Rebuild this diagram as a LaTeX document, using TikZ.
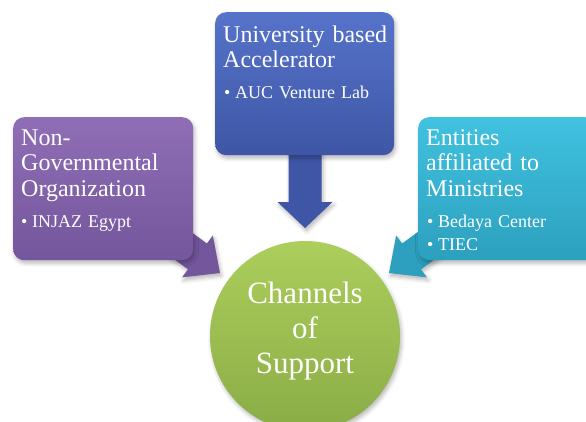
\documentclass[tikz,border=0pt]{standalone}
\usepackage{fontspec}
\setmainfont{Liberation Serif}
\usetikzlibrary{shadows.blur}

\definecolor{ngoTop}{RGB}{143,110,182}
\definecolor{ngoBot}{RGB}{116,86,156}
\definecolor{uniTop}{RGB}{86,115,202}
\definecolor{uniBot}{RGB}{62,86,165}
\definecolor{minTop}{RGB}{64,194,224}
\definecolor{minBot}{RGB}{44,160,190}
\definecolor{hubTop}{RGB}{172,206,92}
\definecolor{hubBot}{RGB}{138,172,70}

\tikzset{
  softshadow/.style={blur shadow={shadow xshift=1.5pt, shadow yshift=-3pt,
      shadow blur radius=4pt, shadow opacity=28}},
  card/.style={rectangle, rounded corners=11pt, anchor=north west,
      inner sep=0pt, softshadow},
  heading/.style={text=white, inner sep=0pt, anchor=base west,
      text width=170pt, align=left,
      font=\fontsize{24}{25.5}\selectfont},
  bullets/.style={text=white, inner sep=0pt, anchor=base west,
      text width=165pt, align=left,
      font=\fontsize{18}{23}\selectfont},
  hub/.style={circle, minimum size=190pt, inner sep=0pt, softshadow,
      top color=hubTop, bottom color=hubBot},
  hublabel/.style={text=white, inner sep=0pt, anchor=base,
      text width=170pt, align=center, font=\fontsize{31}{35}\selectfont}
}

% block arrow: tip point, direction angle, total length, head length,
% head half width, shaft half width, fill colour
\newcommand\blockarrow[7]{%
  \begin{scope}[shift={#1}, rotate=#2]
    \fill[#7, softshadow] (0,0) -- (-#4,#5) -- (-#4,#6) -- (-#3,#6)
      -- (-#3,-#6) -- (-#4,-#6) -- (-#4,-#5) -- cycle;
  \end{scope}}

\newcommand\bul[1]{\makebox[11pt][l]{\textbullet}#1}

\begin{document}
\begin{tikzpicture}[x=1pt,y=1pt]
  \useasboundingbox (0,0) rectangle (586,-421);
  \clip (0,0) rectangle (586,-421);

  % arrows pointing at the centre
  \coordinate (tipN) at (220,-273);
  \coordinate (tipU) at (305,-228);
  \coordinate (tipM) at (389,-273);
  \blockarrow{(tipN)}{-36.3}{75}{28}{26}{16}{ngoBot}
  \blockarrow{(tipU)}{-90}{80}{26}{27.5}{16.5}{uniBot}
  \blockarrow{(tipM)}{216.3}{75}{28}{26}{16}{minBot}

  % cards
  \node[card, minimum width=180pt, minimum height=143pt,
        top color=ngoTop, bottom color=ngoBot] (ngo) at (13,-117) {};
  \node[card, minimum width=179pt, minimum height=143pt,
        top color=uniTop, bottom color=uniBot] (uni) at (215,-12) {};
  \node[card, minimum width=178pt, minimum height=143pt,
        top color=minTop, bottom color=minBot] (min) at (418,-117) {};

  % card texts
  \node[heading] (ngoH) at (21,-145) {Non-\\Governmental\\Organization};
  \node[bullets] (ngoB) at (21,-227) {\bul{INJAZ Egypt}};

  \node[heading] (uniH) at (223,-42) {University based\\Accelerator};
  \node[bullets] (uniB) at (224,-98) {\bul{AUC Venture Lab}};

  \node[heading] (minH) at (426,-145) {Entities\\affiliated to\\Ministries};
  \node[bullets] (minB) at (427,-227) {\bul{Bedaya Center}\\\bul{TIEC}};

  % central circle
  \node[hub] (hub) at (305,-336) {};
  \node[hublabel] (hubL) at (305,-303) {Channels\\of\\Support};
\end{tikzpicture}
\end{document}
